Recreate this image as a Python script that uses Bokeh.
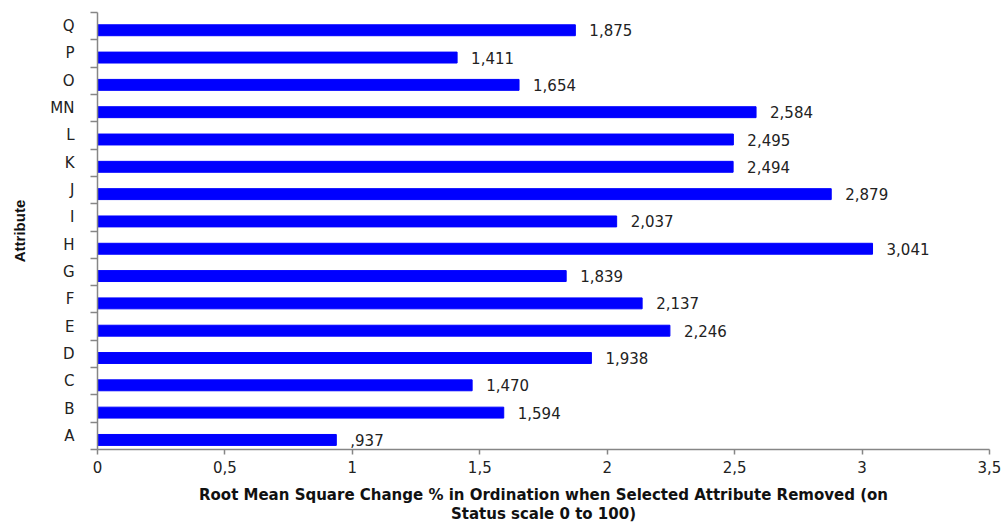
from bokeh.plotting import figure
from bokeh.models import ColumnDataSource, FixedTicker, Range1d
from bokeh.embed import file_html
from bokeh.resources import INLINE
from bokeh.core.properties import value

categories = ["A", "B", "C", "D", "E", "F", "G", "H", "I", "J", "K", "L", "MN", "O", "P", "Q"]
values = [0.937, 1.594, 1.470, 1.938, 2.246, 2.137, 1.839, 3.041, 2.037, 2.879, 2.494, 2.495, 2.584, 1.654, 1.411, 1.875]
x_ticks = [0, 0.5, 1, 1.5, 2, 2.5, 3, 3.5]
x_tick_labels = ["0", "0,5", "1", "1,5", "2", "2,5", "3", "3,5"]

def fmt(v):
    s = f"{v:.3f}".replace(".", ",")
    if s.startswith("0"):
        s = s[1:]
    return s

n = len(categories)
pos = list(range(n))
bar_y = [i - 0.15 for i in pos]
labels = [fmt(v) for v in values]

src = ColumnDataSource(dict(y=bar_y, v=values, lab=labels))

p = figure(width=1008, height=526, output_backend="svg", toolbar_location=None,
           x_range=Range1d(0, 3.5), y_range=Range1d(-0.5, n - 0.5),
           min_border_left=97, min_border_right=19, min_border_top=12, min_border_bottom=76)
p.outline_line_color = None
p.xgrid.visible = False
p.ygrid.visible = False

p.hbar(y="y", right="v", left=0, height=0.4, color="#0000FF", source=src)
p.text(x="v", y="y", text="lab", source=src, x_offset=14, text_align="left", text_baseline="middle",
       text_font=value("DejaVu Sans"), text_font_size="15px", text_color="#222222")

axis_color = "#868686"
xa = p.xaxis[0]
xa.ticker = FixedTicker(ticks=x_ticks)
xa.major_label_overrides = {t: l for t, l in zip(x_ticks, x_tick_labels)}
xa.axis_line_color = axis_color
xa.axis_line_width = 1.5
xa.major_tick_line_color = axis_color
xa.major_tick_line_width = 1.5
xa.major_tick_out = 5
xa.major_tick_in = 0
xa.minor_tick_line_color = None
xa.major_label_standoff = 6
xa.major_label_text_font = "DejaVu Sans"
xa.major_label_text_font_size = "15px"
xa.major_label_text_color = "#222222"
xa.axis_label = "Root Mean Square Change % in Ordination when Selected Attribute Removed (on\nStatus scale 0 to 100)"
xa.axis_label_text_font = "DejaVu Sans"
xa.axis_label_text_font_style = "bold"
xa.axis_label_text_font_size = "15px"
xa.axis_label_text_color = "#111111"
xa.axis_label_text_line_height = 1.1
xa.axis_label_standoff = 10

ya = p.yaxis[0]
ya.ticker = FixedTicker(ticks=pos, minor_ticks=[i - 0.5 for i in range(n + 1)])
ya.major_label_overrides = {i: c for i, c in zip(pos, categories)}
ya.axis_line_color = axis_color
ya.axis_line_width = 1.5
ya.major_tick_line_color = None
ya.major_tick_out = 0
ya.major_tick_in = 0
ya.minor_tick_line_color = axis_color
ya.minor_tick_line_width = 1.5
ya.minor_tick_out = 7
ya.minor_tick_in = 0
ya.major_label_standoff = 16
ya.major_label_text_font = "DejaVu Sans"
ya.major_label_text_font_size = "15px"
ya.major_label_text_color = "#222222"
ya.axis_label = "Attribute"
ya.axis_label_text_font = "Liberation Sans"
ya.axis_label_text_font_style = "bold"
ya.axis_label_text_font_size = "15px"
ya.axis_label_text_color = "#111111"
ya.axis_label_standoff = 19

open("out.html", "w").write(file_html(p, INLINE))
